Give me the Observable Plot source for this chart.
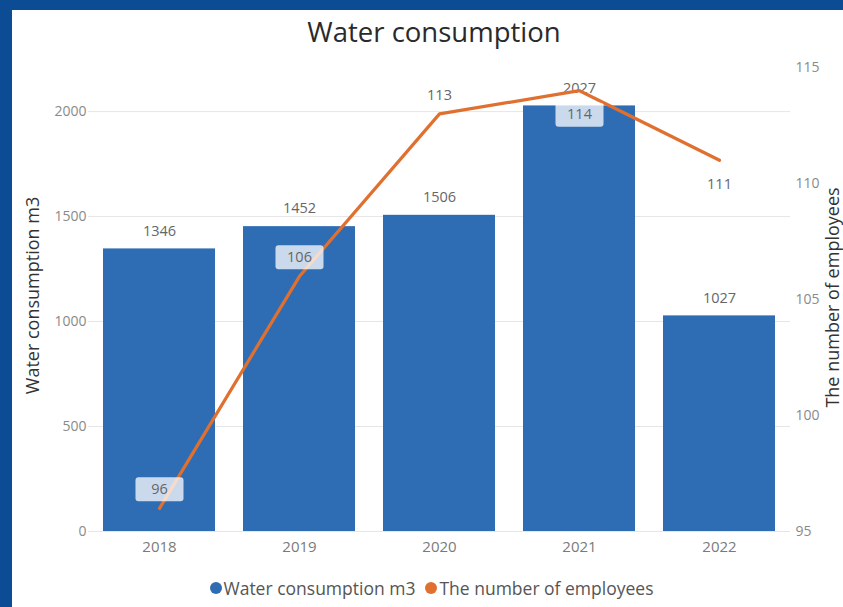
<!DOCTYPE html>
<html>
<head>
<meta charset="utf-8">
<script src="https://cdn.jsdelivr.net/npm/d3@7"></script>
<script src="https://cdn.jsdelivr.net/npm/@observablehq/plot@0.6"></script>
<style>
  html, body { margin: 0; padding: 0; width: 843px; height: 607px; overflow: hidden; background: #0b4c94; }
  #panel { position: absolute; left: 12px; top: 10px; width: 831px; height: 597px; background: #ffffff; font-family: "Open Sans", sans-serif; }
  #title { position: absolute; left: 0; top: 0; width: 831px; height: 44px; line-height: 44px; text-align: center; padding-left: 13px; box-sizing: border-box; font-size: 27.5px; color: #2a2a2a; font-weight: 500; }
  #chart { position: absolute; left: 0; top: 45px; }
  #legend { position: absolute; left: 0; top: 566px; width: 831px; height: 22px; line-height: 22px; text-align: center; padding-left: 8px; box-sizing: border-box; font-size: 17.5px; color: #555; }
  .key { display: inline-flex; align-items: center; margin: 0 5px; }
  .dot { display: inline-block; width: 12px; height: 12px; border-radius: 50%; margin-right: 2px; }
</style>
</head>
<body>
<div id="panel">
  <div id="title">Water consumption</div>
  <div id="chart"></div>
  <div id="legend"></div>
</div>
<script>
const years = ["2018", "2019", "2020", "2021", "2022"];
const water = [1346, 1452, 1506, 2027, 1027];
const employees = [96, 106, 113, 114, 111];
const leftTicks = [0, 500, 1000, 1500, 2000];
const rightTicks = [95, 100, 105, 110, 115];
const seriesNames = ["Water consumption m3", "The number of employees"];
const colors = ["#2e6db4", "#e0702f"];

const leftMax = 2210;
const rightMin = 95, rightMax = 115;
const toLeft = v => (v - rightMin) / (rightMax - rightMin) * leftMax;
const fromLeft = y => Math.round(y / leftMax * (rightMax - rightMin) + rightMin);

const rows = years.map((y, i) => ({year: y, water: water[i], emp: employees[i], i}));

const boxSymbol = {
  draw(context) {
    const w = 48, h = 24, r = 3, x0 = -w / 2, y0 = -h / 2;
    context.moveTo(x0 + r, y0);
    context.lineTo(x0 + w - r, y0);
    context.arcTo(x0 + w, y0, x0 + w, y0 + r, r);
    context.lineTo(x0 + w, y0 + h - r);
    context.arcTo(x0 + w, y0 + h, x0 + w - r, y0 + h, r);
    context.lineTo(x0 + r, y0 + h);
    context.arcTo(x0, y0 + h, x0, y0 + h - r, r);
    context.lineTo(x0, y0 + r);
    context.arcTo(x0, y0, x0 + r, y0, r);
    context.closePath();
  }
};

const above = d => d.i <= 2;
const below = d => d.i > 2;

const chart = Plot.plot({
  width: 831,
  height: 510,
  marginLeft: 76,
  marginRight: 53,
  marginTop: 12,
  marginBottom: 34,
  style: {fontFamily: "'Open Sans', sans-serif", fontSize: "14px", background: "transparent"},
  x: {domain: years, paddingInner: 0.2, paddingOuter: 0.1, label: null},
  y: {domain: [0, leftMax], label: null},
  marks: [
    Plot.gridY(leftTicks, {stroke: "#e6e6e6", strokeOpacity: 1}),
    Plot.axisY(leftTicks, {tickSize: 0, tickPadding: 2, label: null, fill: "#8a8a8a", fontSize: 14, tickFormat: d => String(d)}),
    Plot.axisY(rightTicks.map(toLeft), {anchor: "right", tickSize: 0, tickPadding: 5, label: null, fill: "#8a8a8a", fontSize: 14, tickFormat: d => String(fromLeft(d))}),
    Plot.axisX({tickSize: 0, tickPadding: 10, label: null, fill: "#7a7a7a", fontSize: 15}),
    Plot.barY(rows, {x: "year", y: "water", fill: colors[0]}),
    Plot.text(rows, {x: "year", y: "water", text: d => String(d.water), dy: -18, fill: "#666", fontSize: 14.5}),
    Plot.line(rows, {x: "year", y: d => toLeft(d.emp), stroke: colors[1], strokeWidth: 3.2}),
    Plot.dot(rows.filter(above), {x: "year", y: d => toLeft(d.emp), dy: -19, symbol: boxSymbol, fill: "#ffffff", fillOpacity: 0.75, stroke: "none"}),
    Plot.dot(rows.filter(below), {x: "year", y: d => toLeft(d.emp), dy: 24, symbol: boxSymbol, fill: "#ffffff", fillOpacity: 0.75, stroke: "none"}),
    Plot.text(rows.filter(above), {x: "year", y: d => toLeft(d.emp), text: d => String(d.emp), dy: -19, fill: "#666", fontSize: 14.5}),
    Plot.text(rows.filter(below), {x: "year", y: d => toLeft(d.emp), text: d => String(d.emp), dy: 24, fill: "#666", fontSize: 14.5}),
    Plot.text([seriesNames[0]], {frameAnchor: "middle", text: d => d, rotate: -90, dx: -406, dy: -4, fontSize: 18, fill: "#333"}),
    Plot.text([seriesNames[1]], {frameAnchor: "middle", text: d => d, rotate: -90, dx: 394, dy: -2, fontSize: 18, fill: "#333"})
  ]
});
document.getElementById("chart").appendChild(chart);

const legend = document.getElementById("legend");
seriesNames.forEach((name, i) => {
  const span = document.createElement("span");
  span.className = "key";
  const dot = document.createElement("span");
  dot.className = "dot";
  dot.style.background = colors[i];
  span.appendChild(dot);
  span.appendChild(document.createTextNode(name));
  legend.appendChild(span);
});
</script>
</body>
</html>
